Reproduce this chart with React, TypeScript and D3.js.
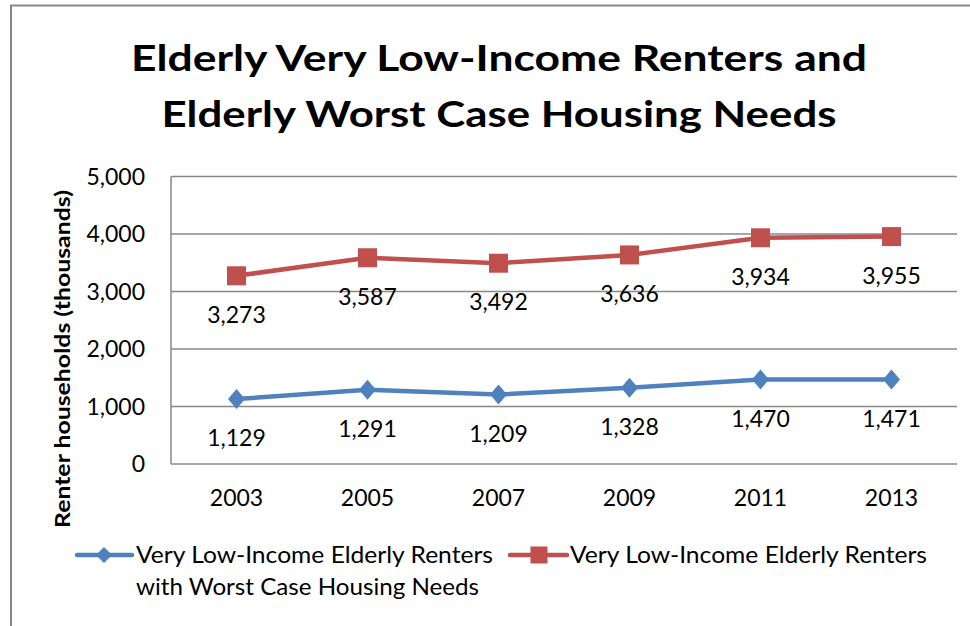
import React from 'react';
import * as d3 from 'd3';

const years = ['2003', '2005', '2007', '2009', '2011', '2013'];
const worstCaseNeeds = [1129, 1291, 1209, 1328, 1470, 1471];
const veryLowIncome = [3273, 3587, 3492, 3636, 3934, 3955];
const yTicks = [0, 1000, 2000, 3000, 4000, 5000];
const titleLines = ['Elderly Very Low-Income Renters and', 'Elderly Worst Case Housing Needs'];
const yAxisTitle = 'Renter households (thousands)';
const blueLegend = ['Very Low-Income Elderly Renters', 'with Worst Case Housing Needs'];
const redLegend = 'Very Low-Income Elderly Renters';

const W = 970;
const H = 626;
const BLUE = '#4F81BD';
const RED = '#C0504D';
const GRID = '#888888';
const FONT = 'Lato, "Open Sans", sans-serif';

export default function App() {
  const plot = { left: 171, right: 957, top: 176.5, bottom: 464 };
  const x = d3.scaleBand<string>().domain(years).range([plot.left, plot.right]);
  const cx = (yr: string) => (x(yr) as number) + x.bandwidth() / 2;
  const y = d3.scaleLinear().domain([0, 5000]).range([plot.bottom, plot.top]);
  const fmt = d3.format(',');

  const line = d3
    .line<number>()
    .x((_, i) => cx(years[i]))
    .y((d) => y(d));

  const diamond = 'M0,-10L8.5,0L0,10L-8.5,0Z';
  const legDiamond = 'M0,-8L8,0L0,8L-8,0Z';

  return (
    <svg
      width={W}
      height={H}
      style={{ position: 'absolute', left: 0, top: 0, background: '#fff' }}
      fontFamily={FONT}
    >
      <rect x={0} y={0} width={W} height={H} fill="#fff" />
      {/* outer border */}
      <rect x={11} y={5.5} width={W + 20} height={H + 20} fill="none" stroke={GRID} strokeWidth={2} />

      {/* title */}
      {titleLines.map((t, i) => (
        <text
          key={i}
          x={499}
          y={[70.7, 126.7][i]}
          textAnchor="middle"
          fontWeight="bold"
          fontSize={37}
          fill="#000"
          textLength={[736, 675][i]}
          lengthAdjust="spacingAndGlyphs"
        >
          {t}
        </text>
      ))}

      {/* gridlines */}
      {yTicks.map((t) => (
        <line key={t} x1={plot.left} x2={plot.right} y1={y(t)} y2={y(t)} stroke={GRID} strokeWidth={1.5} />
      ))}
      <line x1={plot.left} x2={plot.left} y1={plot.top} y2={plot.bottom} stroke={GRID} strokeWidth={1.5} />

      {/* y tick labels */}
      {yTicks.map((t) => (
        <text key={t} x={145} y={y(t)} dy="0.36em" textAnchor="end" fontSize={23} fill="#000">
          {fmt(t)}
        </text>
      ))}

      {/* y axis title */}
      <text
        transform={`translate(70,359) rotate(-90)`}
        textAnchor="middle"
        fontWeight="bold"
        fontSize={21}
        textLength={338}
        lengthAdjust="spacingAndGlyphs"
        fill="#000"
      >
        {yAxisTitle}
      </text>

      {/* x labels */}
      {years.map((yr) => (
        <text key={yr} x={cx(yr)} y={506} textAnchor="middle" fontSize={23} fill="#000">
          {yr}
        </text>
      ))}

      {/* red series */}
      <path d={line(veryLowIncome) as string} fill="none" stroke={RED} strokeWidth={4.5} strokeLinejoin="round" />
      {veryLowIncome.map((v, i) => (
        <rect key={i} x={cx(years[i]) - 9.5} y={y(v) - 9.5} width={19} height={19} fill={RED} />
      ))}
      {veryLowIncome.map((v, i) => (
        <text key={i} x={cx(years[i])} y={y(v) + 39} dy="0.36em" textAnchor="middle" fontSize={23} fill="#000">
          {fmt(v)}
        </text>
      ))}

      {/* blue series */}
      <path d={line(worstCaseNeeds) as string} fill="none" stroke={BLUE} strokeWidth={4.5} strokeLinejoin="round" />
      {worstCaseNeeds.map((v, i) => (
        <path key={i} d={diamond} transform={`translate(${cx(years[i])},${y(v)})`} fill={BLUE} />
      ))}
      {worstCaseNeeds.map((v, i) => (
        <text key={i} x={cx(years[i])} y={y(v) + 39} dy="0.36em" textAnchor="middle" fontSize={23} fill="#000">
          {fmt(v)}
        </text>
      ))}

      {/* legend */}
      <line x1={77} x2={132} y1={555} y2={555} stroke={BLUE} strokeWidth={4.5} strokeLinecap="round" />
      <path d={legDiamond} transform="translate(104,555)" fill={BLUE} />
      <text x={136} y={563} fontSize={23} fill="#000" textLength={357} lengthAdjust="spacingAndGlyphs">
        {blueLegend[0]}
      </text>
      <text x={136} y={595} fontSize={23} fill="#000" textLength={343} lengthAdjust="spacingAndGlyphs">
        {blueLegend[1]}
      </text>
      <line x1={510} x2={567} y1={555} y2={555} stroke={RED} strokeWidth={4.5} strokeLinecap="round" />
      <rect x={530.5} y={546.5} width={17} height={17} fill={RED} />
      <text x={570} y={563} fontSize={23} fill="#000" textLength={357} lengthAdjust="spacingAndGlyphs">
        {redLegend}
      </text>
    </svg>
  );
}
